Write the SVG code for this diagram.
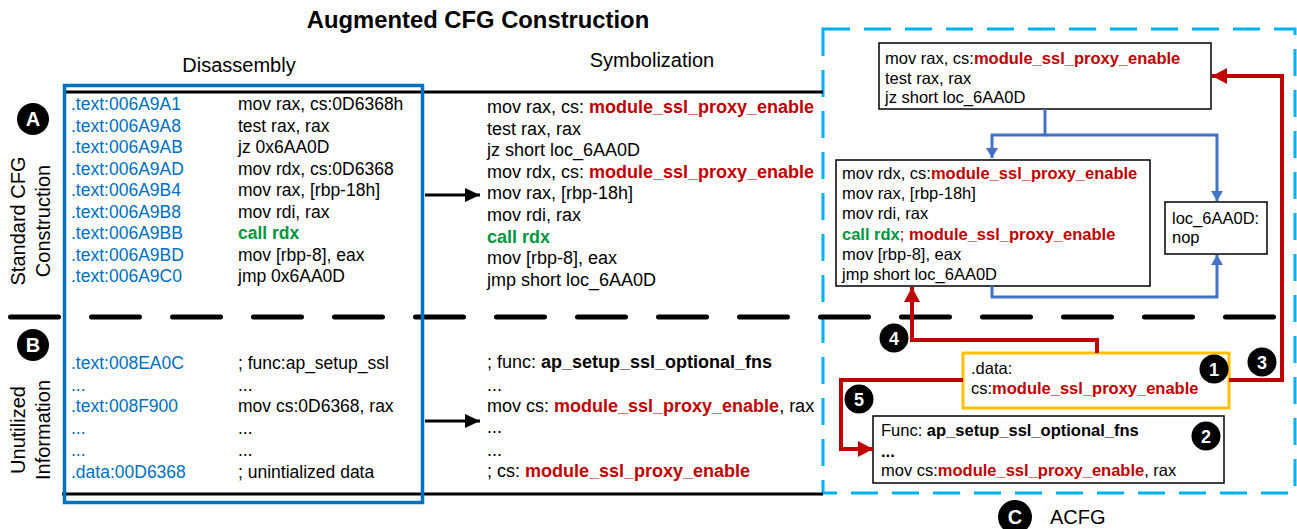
<svg xmlns="http://www.w3.org/2000/svg" width="1297" height="529" viewBox="0 0 1297 529">
<style>
text{font-family:"Liberation Sans",Arial,sans-serif;fill:#000}
.hd{font-size:20px}
.ti{font-size:23.8px;font-weight:bold}
.l{font-size:17.5px}
.m{font-size:18px}
.r{font-size:16.5px}
.ad{fill:#0070C0}
.b{font-weight:bold}
.red{fill:#C00000;font-weight:bold}
.grn{fill:#00963F;font-weight:bold}
.box{fill:#fff;stroke:#000;stroke-width:1.5}
.blue{fill:none;stroke:#4472C4;stroke-width:3}
.rd{fill:none;stroke:#C00000;stroke-width:4}
.circ{fill:#000}
.ct{fill:#fff;font-weight:bold;text-anchor:middle}
</style>
<defs>
<marker id="ab" markerWidth="12" markerHeight="12" refX="10" refY="6" orient="auto" markerUnits="userSpaceOnUse"><path d="M0,0 L10,6 L0,12 z" fill="#4472C4"/></marker>
<marker id="ar" markerWidth="16" markerHeight="16" refX="15" refY="8" orient="auto" markerUnits="userSpaceOnUse"><path d="M0,0 L15,8 L0,16 z" fill="#C00000"/></marker>
<marker id="ak" markerWidth="16" markerHeight="16" refX="15" refY="7" orient="auto" markerUnits="userSpaceOnUse"><path d="M0,0 L15,7 L0,14 z" fill="#000"/></marker>
</defs>
<rect width="1297" height="529" fill="#fff"/>

<g id="title">
<text class="ti" x="478" y="28" text-anchor="middle">Augmented CFG Construction</text>
<text class="hd" x="239" y="72" text-anchor="middle">Disassembly</text>
<text class="hd" x="652" y="67" text-anchor="middle">Symbolization</text>
</g>

<g id="acfg-frame">
<rect x="823" y="29" width="472" height="464" fill="none" stroke="#00B0F0" stroke-width="3" stroke-dasharray="27 14"/>
</g>

<g id="separators">
<line x1="65" y1="92" x2="823" y2="92" stroke="#000" stroke-width="3"/>
<line x1="62" y1="494" x2="823" y2="494" stroke="#000" stroke-width="3"/>
<line x1="10.5" y1="317" x2="1275" y2="317" stroke="#000" stroke-width="5" stroke-linecap="round" stroke-dasharray="48 33"/>
</g>

<g id="side-labels">
<circle class="circ" cx="33" cy="119" r="16"/>
<text class="ct" x="33" y="126" font-size="20">A</text>
<text class="hd" transform="translate(25,221) rotate(-90)" text-anchor="middle">Standard CFG</text>
<text class="hd" transform="translate(50,221) rotate(-90)" text-anchor="middle">Construction</text>
<circle class="circ" cx="33" cy="345" r="16"/>
<text class="ct" x="33" y="352" font-size="20">B</text>
<text class="hd" transform="translate(25,430) rotate(-90)" text-anchor="middle">Unutilized</text>
<text class="hd" transform="translate(50,430) rotate(-90)" text-anchor="middle">Information</text>
</g>

<g id="disassembly">
<rect x="64.5" y="85.5" width="358" height="417" fill="none" stroke="#0070C0" stroke-width="3.5"/>
<g class="l">
<text class="ad" x="71" y="110">.text:006A9A1</text>
<text class="ad" x="71" y="131.5">.text:006A9A8</text>
<text class="ad" x="71" y="153">.text:006A9AB</text>
<text class="ad" x="71" y="174.5">.text:006A9AD</text>
<text class="ad" x="71" y="196">.text:006A9B4</text>
<text class="ad" x="71" y="217.5">.text:006A9B8</text>
<text class="ad" x="71" y="239">.text:006A9BB</text>
<text class="ad" x="71" y="260.5">.text:006A9BD</text>
<text class="ad" x="71" y="282">.text:006A9C0</text>
<text x="238" y="110">mov rax, cs:0D6368h</text>
<text x="238" y="131.5">test rax, rax</text>
<text x="238" y="153">jz 0x6AA0D</text>
<text x="238" y="174.5">mov rdx, cs:0D6368</text>
<text x="238" y="196">mov rax, [rbp-18h]</text>
<text x="238" y="217.5">mov rdi, rax</text>
<text class="grn" x="238" y="239">call rdx</text>
<text x="238" y="260.5">mov [rbp-8], eax</text>
<text x="238" y="282">jmp 0x6AA0D</text>
<text class="ad" x="71" y="369">.text:008EA0C</text>
<text class="ad" x="71" y="391">...</text>
<text class="ad" x="71" y="412">.text:008F900</text>
<text class="ad" x="71" y="434">...</text>
<text class="ad" x="71" y="456">...</text>
<text class="ad" x="71" y="478">.data:00D6368</text>
<text x="238" y="369">; func:ap_setup_ssl</text>
<text x="238" y="391">...</text>
<text x="238" y="412">mov cs:0D6368, rax</text>
<text x="238" y="434">...</text>
<text x="238" y="456">...</text>
<text x="238" y="478">; unintialized data</text>
</g>
</g>

<g id="symbolization">
<g class="m">
<text x="487" y="113">mov rax, cs: <tspan class="red">module_ssl_proxy_enable</tspan></text>
<text x="487" y="134.6">test rax, rax</text>
<text x="487" y="156.2">jz short loc_6AA0D</text>
<text x="487" y="177.8">mov rdx, cs: <tspan class="red">module_ssl_proxy_enable</tspan></text>
<text x="487" y="199.4">mov rax, [rbp-18h]</text>
<text x="487" y="221">mov rdi, rax</text>
<text class="grn" x="487" y="242.6">call rdx</text>
<text x="487" y="264.2">mov [rbp-8], eax</text>
<text x="487" y="285.8">jmp short loc_6AA0D</text>
<text x="487" y="368">; func: <tspan class="b">ap_setup_ssl_optional_fns</tspan></text>
<text x="487" y="391">...</text>
<text x="487" y="412">mov cs: <tspan class="red">module_ssl_proxy_enable</tspan>, rax</text>
<text x="487" y="433">...</text>
<text x="487" y="456">...</text>
<text x="487" y="477">; cs: <tspan class="red">module_ssl_proxy_enable</tspan></text>
</g>
</g>

<g id="node-top">
<rect class="box" x="879" y="43" width="332" height="66"/>
<g class="r">
<text x="885" y="64">mov rax, cs:<tspan class="red">module_ssl_proxy_enable</tspan></text>
<text x="885" y="84">test rax, rax</text>
<text x="885" y="103">jz short loc_6AA0D</text>
</g>
</g>

<g id="node-mid">
<rect class="box" x="836" y="160" width="314" height="126"/>
<g class="r">
<text x="842" y="179">mov rdx, cs:<tspan class="red">module_ssl_proxy_enable</tspan></text>
<text x="842" y="199">mov rax, [rbp-18h]</text>
<text x="842" y="219">mov rdi, rax</text>
<text x="842" y="240"><tspan class="grn">call rdx</tspan><tspan fill="#C00000">; </tspan><tspan class="red">module_ssl_proxy_enable</tspan></text>
<text x="842" y="260">mov [rbp-8], eax</text>
<text x="842" y="280">jmp short loc_6AA0D</text>
</g>
</g>

<g id="node-loc">
<rect class="box" x="1165" y="202" width="102" height="52"/>
<g class="r">
<text x="1172" y="224">loc_6AA0D:</text>
<text x="1172" y="243">nop</text>
</g>
</g>

<g id="node-data">
<rect x="963" y="353" width="266" height="55" fill="#fff" stroke="#FFC000" stroke-width="3"/>
<g class="r">
<text x="971" y="374">.data:</text>
<text x="971" y="394">cs:<tspan class="red">module_ssl_proxy_enable</tspan></text>
</g>
</g>

<g id="node-func">
<rect class="box" x="873" y="416" width="351" height="67"/>
<g class="r">
<text x="881" y="436">Func: <tspan class="b">ap_setup_ssl_optional_fns</tspan></text>
<text class="b" x="881" y="457">...</text>
<text x="881" y="476">mov cs:<tspan class="red">module_ssl_proxy_enable</tspan>, rax</text>
</g>
</g>

<g id="connectors">
<line x1="425" y1="195" x2="480" y2="195" stroke="#000" stroke-width="3" marker-end="url(#ak)"/>
<line x1="425" y1="421" x2="480" y2="421" stroke="#000" stroke-width="3" marker-end="url(#ak)"/>
<path class="blue" d="M1045,109 V135 H992 V158" marker-end="url(#ab)"/>
<path class="blue" d="M1045,135 H1217 V201" marker-end="url(#ab)"/>
<path class="blue" d="M992,286 V297 H1217 V255" marker-end="url(#ab)"/>
<path class="rd" d="M1229,380 H1282 V76 H1212" marker-end="url(#ar)"/>
<path class="rd" d="M1097,353 V340 H912 V287" marker-end="url(#ar)"/>
<path class="rd" d="M963,380 H841 V449 H873" marker-end="url(#ar)"/>
</g>

<g id="step-markers">
<circle class="circ" cx="1214" cy="369" r="14.5"/><text class="ct" x="1214" y="375.5" font-size="18">1</text>
<circle class="circ" cx="1206" cy="436" r="14.5"/><text class="ct" x="1206" y="442.5" font-size="18">2</text>
<circle class="circ" cx="1262" cy="362" r="14.5"/><text class="ct" x="1262" y="368.5" font-size="18">3</text>
<circle class="circ" cx="894" cy="338" r="14.5"/><text class="ct" x="894" y="344.5" font-size="18">4</text>
<circle class="circ" cx="859" cy="399" r="14.5"/><text class="ct" x="859" y="405.5" font-size="18">5</text>
</g>

<g id="acfg-label">
<circle class="circ" cx="1015" cy="517" r="17"/>
<text class="ct" x="1015" y="524" font-size="20">C</text>
<text class="hd" x="1050" y="524">ACFG</text>
</g>
</svg>
